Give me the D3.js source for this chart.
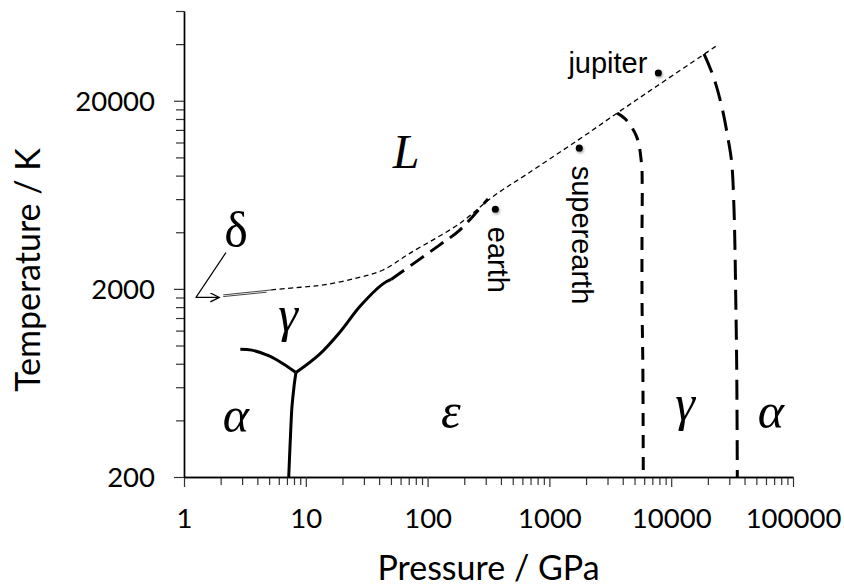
<!DOCTYPE html>
<html>
<head>
<meta charset="utf-8">
<script src="https://cdn.jsdelivr.net/npm/d3@7"></script>
<style>
  body { margin: 0; background: #fff; }
  svg { display: block; }
</style>
</head>
<body>
<svg id="chart" width="844" height="588"></svg>
<script>
// Phase diagram of iron: pressure in GPa, temperature in K.

// alpha / gamma boundary (low pressure)
const alphaGammaP = [2.9, 3.6, 5.0, 6.5, 8.3];
const alphaGammaT = [955, 945, 880, 800, 718];

// alpha / epsilon boundary
const alphaEpsP = [8.3, 8.0, 7.7, 7.46, 7.24];
const alphaEpsT = [718, 604, 473, 315, 200];

// gamma / epsilon boundary (measured part)
const gammaEpsP = [8.3, 13, 19.1, 28, 43.0, 50.1];
const gammaEpsT = [718, 900, 1180, 1620, 2126, 2245];

// gamma / epsilon boundary (extrapolated up to melting)
const gammaEpsExtP = [50.1, 126, 184.5, 313];
const gammaEpsExtT = [2245, 3428, 4120, 6020];

// melting curve
const meltP = [5.2, 9, 14, 26, 43, 72, 185, 345, 650, 1700, 3600, 7600, 23600];
const meltT = [1975, 2040, 2100, 2280, 2520, 3100, 4470, 6200, 8130, 12300, 17200, 23900, 39200];

// delta field (narrow band below melting)
const deltaUpperP = [2.1, 5.25];
const deltaUpperT = [1858, 1975];
const deltaLowerP = [2.1, 4.77];
const deltaLowerT = [1820, 1920];

// predicted epsilon / gamma boundary at very high pressure
const epsGammaHiP = [3600, 4200, 5200, 5700, 5780, 5760, 5760, 5850, 5900];
const epsGammaHiT = [17200, 16000, 12900, 9330, 7300, 3950, 1750, 770, 200];

// predicted gamma / alpha boundary at very high pressure
const gammaAlphaHiP = [18600, 22200, 26000, 29400, 31400, 32800, 33400, 33900, 34500, 34900];
const gammaAlphaHiT = [35500, 26900, 18660, 12400, 9330, 5260, 3225, 1750, 773, 200];

// planetary cores
const planetNames = ["earth", "superearth", "jupiter"];
const planetP = [360, 1760, 7850];
const planetT = [5300, 11200, 28100];

// phase field labels
const fieldNames = ["L", "δ", "γ", "α", "ε", "γ", "α"];
const fieldP = [66.5, 2.67, 7.14, 2.67, 155, 12980, 65960];
const fieldT = [8800, 3345, 1196, 347, 364, 402, 364];

// arrow pointing at the delta band
const arrowP = [2.21, 1.254, 1.95];
const arrowT = [3120, 1802, 1802];

// axis ticks
const xMajor = [1, 10, 100, 1000, 10000, 100000];
const xMajorLabels = ["1", "10", "100", "1000", "10000", "100000"];
const yMajor = [200, 2000, 20000];
const yMajorLabels = ["200", "2000", "20000"];
const xMinor = [];
[1, 10, 100, 1000, 10000].forEach(d => { for (let k = 2; k <= 9; k++) xMinor.push(d * k); });
const yMinor = [];
[200, 2000].forEach(d => { for (let k = 2; k <= 9; k++) yMinor.push(d * k); });
yMinor.push(40000, 60000);

const zip = (a, b) => a.map((v, i) => [v, b[i]]);

const svg = d3.select("#chart");
const x = d3.scaleLog().domain([1, 100000]).range([184, 793]);
const y = d3.scaleLog().domain([200, 60000]).range([477, 11]);

const defs = svg.append("defs");
const shadow = defs.append("filter").attr("id", "dotShadow")
  .attr("x", "-100%").attr("y", "-100%").attr("width", "300%").attr("height", "300%");
shadow.append("feDropShadow").attr("dx", 1).attr("dy", 1.5)
  .attr("stdDeviation", 1.2).attr("flood-color", "#888").attr("flood-opacity", 0.7);

defs.append("marker").attr("id", "openArrow")
  .attr("markerUnits", "userSpaceOnUse")
  .attr("markerWidth", 12).attr("markerHeight", 12)
  .attr("refX", 9).attr("refY", 4.5).attr("orient", "auto")
  .append("path").attr("d", "M0,0 L9,4.5 L0,9")
  .attr("fill", "none").attr("stroke", "#000").attr("stroke-width", 1.2);

// ---- axes ----
const tickFont = "Lato, 'Open Sans', sans-serif";

const xAxisMinor = d3.axisBottom(x).tickValues(xMinor).tickSize(8).tickSizeOuter(0).tickFormat("");
const xAxisMajor = d3.axisBottom(x).tickValues(xMajor).tickSize(10).tickSizeOuter(0).tickPadding(21)
  .tickFormat((d, i) => xMajorLabels[i]);
const yAxisMinor = d3.axisLeft(y).tickValues(yMinor).tickSize(8).tickSizeOuter(0).tickFormat("");
const yAxisMajor = d3.axisLeft(y).tickValues(yMajor).tickSize(10).tickSizeOuter(0).tickPadding(19)
  .tickFormat((d, i) => yMajorLabels[i]);

function styleAxis(g) {
  g.select(".domain").attr("stroke", "#000").attr("stroke-width", 1.4);
  g.selectAll(".tick line").attr("stroke", "#333").attr("stroke-width", 1.2);
  g.selectAll(".tick text").attr("fill", "#000")
    .style("font-family", tickFont).style("font-size", "27.5px");
}

svg.append("g").attr("transform", `translate(0,${y(200)})`).call(xAxisMinor).call(styleAxis);
svg.append("g").attr("transform", `translate(0,${y(200)})`).call(xAxisMajor).call(styleAxis);
svg.append("g").attr("transform", `translate(${x(1)},0)`).call(yAxisMinor).call(styleAxis);
svg.append("g").attr("transform", `translate(${x(1)},0)`).call(yAxisMajor).call(styleAxis)
  .selectAll(".tick text").attr("dy", "0.36em");

svg.append("text")
  .attr("x", (x(1) + x(100000)) / 2).attr("y", 580)
  .attr("text-anchor", "middle")
  .style("font-family", tickFont).style("font-size", "34px")
  .text("Pressure / GPa");

svg.append("text")
  .attr("transform", `translate(40,270) rotate(-90)`)
  .attr("text-anchor", "middle")
  .style("font-family", tickFont).style("font-size", "34px")
  .text("Temperature / K");

// ---- phase boundaries ----
const line = d3.line()
  .x(d => x(d[0])).y(d => y(d[1]))
  .curve(d3.curveCatmullRom.alpha(0.5));

const plot = svg.append("g").attr("fill", "none").attr("stroke", "#000")
  .attr("stroke-linecap", "butt").attr("stroke-linejoin", "round");

plot.append("path").attr("d", line(zip(alphaGammaP, alphaGammaT))).attr("stroke-width", 3);
plot.append("path").attr("d", line(zip(alphaEpsP, alphaEpsT))).attr("stroke-width", 3);
plot.append("path").attr("d", line(zip(gammaEpsP, gammaEpsT))).attr("stroke-width", 3);

plot.append("path").attr("d", line(zip(gammaEpsExtP, gammaEpsExtT)))
  .attr("stroke-width", 3).attr("stroke-dasharray", "16,8");

plot.append("path").attr("d", line(zip(meltP, meltT)))
  .attr("stroke-width", 1.3).attr("stroke-dasharray", "5,3.5");

plot.append("path").attr("d", line(zip(deltaUpperP, deltaUpperT)))
  .attr("stroke", "#444").attr("stroke-width", 1);
plot.append("path").attr("d", line(zip(deltaLowerP, deltaLowerT)))
  .attr("stroke", "#444").attr("stroke-width", 1);

plot.append("path").attr("d", line(zip(epsGammaHiP, epsGammaHiT)))
  .attr("stroke-width", 3).attr("stroke-dasharray", "13,9");
plot.append("path").attr("d", line(zip(gammaAlphaHiP, gammaAlphaHiT)))
  .attr("stroke-width", 3).attr("stroke-dasharray", "20,10");

// arrow to the delta band
plot.append("path")
  .attr("d", d3.line().x(d => x(d[0])).y(d => y(d[1]))(zip(arrowP, arrowT)))
  .attr("stroke-width", 1.2)
  .attr("marker-end", "url(#openArrow)");

// ---- phase field labels ----
svg.append("g").selectAll("text")
  .data(fieldNames)
  .join("text")
  .attr("x", (d, i) => x(fieldP[i]))
  .attr("y", (d, i) => y(fieldT[i]))
  .attr("text-anchor", "middle")
  .style("font-family", "'Liberation Serif', 'Times New Roman', serif")
  .style("font-style", d => d === "δ" ? "normal" : "italic")
  .style("font-size", d => d === "L" ? "48px" : "50px")
  .text(d => d);

// ---- planets ----
const planets = svg.append("g");
planets.selectAll("circle")
  .data(planetNames)
  .join("circle")
  .attr("cx", (d, i) => x(planetP[i]))
  .attr("cy", (d, i) => y(planetT[i]))
  .attr("r", 3.6)
  .attr("fill", "#000")
  .attr("filter", "url(#dotShadow)");

planets.selectAll("text")
  .data(planetNames)
  .join("text")
  .style("font-family", "'Liberation Sans', Arial, sans-serif")
  .style("font-size", "29px")
  .attr("text-anchor", d => d === "jupiter" ? "end" : "start")
  .attr("transform", (d, i) => {
    const px = x(planetP[i]), py = y(planetT[i]);
    return d === "jupiter"
      ? `translate(${px - 11},${py})`
      : `translate(${px - 7.5},${py + 17.5}) rotate(90)`;
  })
  .text(d => d);
</script>
</body>
</html>
